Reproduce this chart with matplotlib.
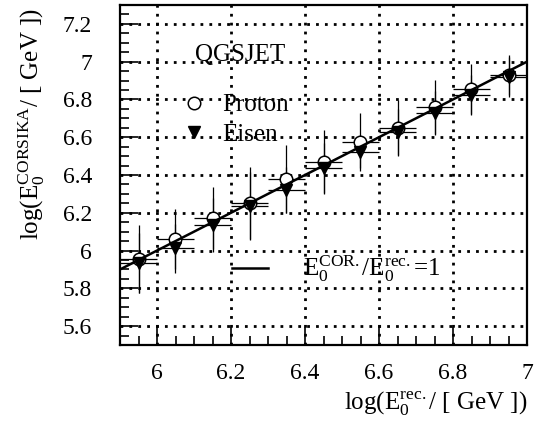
import matplotlib
matplotlib.use('Agg')
import matplotlib.pyplot as plt
from matplotlib.ticker import MultipleLocator
import numpy as np

plt.rcParams['font.family'] = ['Liberation Serif', 'DejaVu Serif']
plt.rcParams['mathtext.fontset'] = 'custom'
plt.rcParams['mathtext.rm'] = 'Liberation Serif'
plt.rcParams['mathtext.it'] = 'Liberation Serif:italic'

# reconstructed log energy bins
e_rec = [5.95, 6.05, 6.15, 6.25, 6.35, 6.45, 6.55, 6.65, 6.75, 6.85, 6.95]
e_rec_err = [0.05] * 11

# proton (QGSJET)
proton_y = [5.955, 6.061, 6.172, 6.252, 6.379, 6.469, 6.575, 6.649, 6.760, 6.855, 6.930]
proton_err = [0.18, 0.16, 0.164, 0.19, 0.18, 0.17, 0.153, 0.148, 0.143, 0.133, 0.105]

# iron (Eisen)
iron_y = [5.934, 6.013, 6.135, 6.236, 6.320, 6.437, 6.520, 6.628, 6.728, 6.823, 6.920]
iron_err = [0.16, 0.13, 0.143, 0.18, 0.12, 0.13, 0.083, 0.122, 0.116, 0.105, 0.107]

# E_COR / E_rec = 1 line
line_x = [5.9, 7.0]


def fmt_tick(v, pos):
    # ROOT style: "6" instead of "6.0"
    if abs(v - round(v)) < 1e-6:
        return '%d' % round(v)
    return '%.1f' % v


fig = plt.figure(figsize=(5.48, 4.25), dpi=100)
ax = fig.add_axes([120/548, 80/425, 407/548, 340/425])

# error bars first, markers on top
ax.errorbar(e_rec, proton_y, xerr=e_rec_err, yerr=proton_err, fmt='none',
            ecolor='k', elinewidth=0.9, capsize=0, zorder=2)
ax.errorbar(e_rec, iron_y, xerr=e_rec_err, yerr=iron_err, fmt='none',
            ecolor='k', elinewidth=0.9, capsize=0, zorder=2)

p_mark, = ax.plot(e_rec, proton_y, 'o', ms=9, mfc='white', mec='k', mew=1.1,
                  zorder=3, label='Proton')
fe_mark, = ax.plot(e_rec, iron_y, 'v', ms=9, mfc='k', mec='k', zorder=4,
                   label='Eisen')
one_line, = ax.plot(line_x, line_x, 'k-', lw=1.8, zorder=5)

ax.set_xlim(5.9, 7.0)
ax.set_ylim(5.5, 7.3)

ax.xaxis.set_major_locator(MultipleLocator(0.2))
ax.xaxis.set_minor_locator(MultipleLocator(0.05))
ax.yaxis.set_major_locator(MultipleLocator(0.2))
ax.yaxis.set_minor_locator(MultipleLocator(0.05))
ax.xaxis.set_major_formatter(plt.FuncFormatter(fmt_tick))
ax.yaxis.set_major_formatter(plt.FuncFormatter(fmt_tick))

ax.tick_params(which='both', direction='in', top=False, right=False, width=1.2,
               labelsize=17)
ax.tick_params(which='major', length=13)
ax.tick_params(which='minor', length=6.5)
ax.tick_params(axis='y', pad=20)
ax.tick_params(axis='x', pad=13)
for s in ax.spines.values():
    s.set_linewidth(1.6)

ax.grid(True, which='major', color='k', linestyle=(0, (1, 2.2)), lw=2.0)
ax.set_axisbelow(True)

ax.set_xlabel(r'log(E$_{0}^{\mathrm{rec.}}$/ [ GeV ])', fontsize=18, loc='right')
ax.set_ylabel(r'log(E$_{0}^{\mathrm{CORSIKA}}$/ [ GeV ])', fontsize=18, loc='top')
ax.xaxis.set_label_coords(1.0, -0.13)
ax.yaxis.set_label_coords(-0.18, 0.99)

ax.text(0.184, 0.853, 'QGSJET', transform=ax.transAxes, fontsize=18,
        va='center', ha='left')
leg1 = ax.legend(handles=[p_mark, fe_mark], loc='center left',
                 bbox_to_anchor=(0.172, 0.662), frameon=False, fontsize=18,
                 handlelength=0.3, handletextpad=1.0, labelspacing=0.28,
                 borderpad=0, borderaxespad=0, numpoints=1)
ax.add_artist(leg1)
ax.legend(handles=[one_line], labels=[r'E$_{0}^{\mathrm{COR.}}$/E$_{0}^{\mathrm{rec.}}$=1'],
          loc='center left', bbox_to_anchor=(0.275, 0.224), frameon=False,
          fontsize=18, handlelength=1.45, handletextpad=1.4, borderpad=0,
          borderaxespad=0)

fig.savefig('out.png', dpi=100)
